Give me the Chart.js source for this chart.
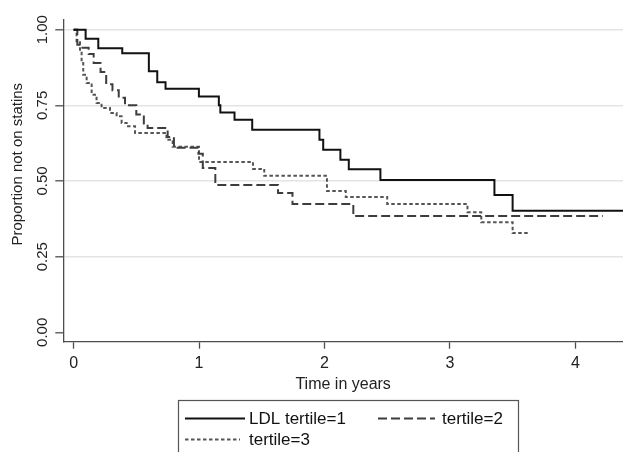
<!DOCTYPE html>
<html>
<head>
<meta charset="utf-8">
<title>Proportion not on statins by LDL tertile</title>
<script src="https://cdn.jsdelivr.net/npm/chart.js@4.4.1/dist/chart.umd.min.js"></script>
<style>
  html, body { margin: 0; padding: 0; background: #fff; }
  canvas { display: block; }
</style>
</head>
<body>
<canvas id="kmChart" width="623" height="452"></canvas>
<script>
// Kaplan-Meier estimates (time in years, proportion not on statins)
const seriesLabels = ["LDL tertile=1", "tertile=2", "tertile=3"];

const tertile1Times = [0, 0.096, 0.197, 0.388, 0.60, 0.667, 0.733, 0.999, 1.158, 1.17, 1.283, 1.424, 1.96, 1.99, 2.127, 2.194, 2.446, 3.355, 3.50, 4.38];
const tertile1Surv  = [1.0, 0.970, 0.939, 0.922, 0.863, 0.826, 0.805, 0.779, 0.750, 0.726, 0.702, 0.669, 0.636, 0.603, 0.570, 0.539, 0.503, 0.454, 0.402, 0.402];

const tertile2Times = [0, 0.03, 0.056, 0.12, 0.16, 0.215, 0.26, 0.31, 0.36, 0.41, 0.50, 0.56, 0.59, 0.75, 0.80, 0.995, 1.03, 1.13, 1.63, 1.745, 2.23, 4.22];
const tertile2Surv  = [1.0, 0.95, 0.94, 0.92, 0.89, 0.86, 0.82, 0.80, 0.775, 0.75, 0.72, 0.69, 0.675, 0.645, 0.61, 0.59, 0.543, 0.487, 0.46, 0.424, 0.384, 0.384];

const tertile3Times = [0, 0.024, 0.051, 0.064, 0.077, 0.104, 0.144, 0.183, 0.223, 0.29, 0.343, 0.383, 0.423, 0.49, 0.74, 0.79, 1.0, 1.43, 1.52, 2.02, 2.17, 2.5, 3.14, 3.25, 3.5, 3.64];
const tertile3Surv  = [1.0, 0.962, 0.929, 0.896, 0.851, 0.824, 0.785, 0.758, 0.741, 0.725, 0.714, 0.692, 0.681, 0.659, 0.636, 0.613, 0.563, 0.54, 0.517, 0.467, 0.447, 0.424, 0.397, 0.364, 0.328, 0.328];

const xTicks = [0, 1, 2, 3, 4];
const yTicks = [0, 0.25, 0.5, 0.75, 1];

const FONT = "'Liberation Sans', Arial, Helvetica, sans-serif";
Chart.defaults.font.family = FONT;
Chart.defaults.color = "#222";

function toPoints(times, surv) {
  return times.map((t, i) => ({ x: t, y: surv[i] }));
}

// stata-style legend: framed box, two columns, left aligned rows
const legendSlots = [
  { x: 185, w: 60, textX: 249, lineY: 418.5, textY: 419 },
  { x: 378, w: 57, textX: 442, lineY: 418.5, textY: 419 },
  { x: 185, w: 55, textX: 249, lineY: 439.5, textY: 440.5 },
];

const framedLegend = {
  id: "framedLegend",
  afterDraw(chart) {
    const c = chart.ctx;
    c.save();
    c.strokeStyle = "#555";
    c.lineWidth = 1.2;
    c.strokeRect(178.5, 400.5, 340, 80);
    chart.data.datasets.forEach((ds, i) => {
      const s = legendSlots[i];
      c.beginPath();
      c.setLineDash(ds.borderDash || []);
      c.strokeStyle = ds.borderColor;
      c.lineWidth = ds.borderWidth;
      c.moveTo(s.x, s.lineY);
      c.lineTo(s.x + s.w, s.lineY);
      c.stroke();
      c.setLineDash([]);
      c.fillStyle = "#111";
      c.font = "17px " + FONT;
      c.textBaseline = "middle";
      c.fillText(ds.label, s.textX, s.textY);
    });
    c.restore();
  },
};

const data = {
  datasets: [
    {
      label: seriesLabels[0],
      data: toPoints(tertile1Times, tertile1Surv),
      borderColor: "#111",
      borderWidth: 2,
      borderDash: [],
    },
    {
      label: seriesLabels[1],
      data: toPoints(tertile2Times, tertile2Surv),
      borderColor: "#3d3d3d",
      borderWidth: 2,
      borderDash: [9, 4],
    },
    {
      label: seriesLabels[2],
      data: toPoints(tertile3Times, tertile3Surv),
      borderColor: "#555",
      borderWidth: 2,
      borderDash: [3.5, 2.5],
    },
  ],
};

const config = {
  type: "line",
  data,
  options: {
    responsive: false,
    animation: false,
    layout: { padding: { top: 20, left: 0, right: 0, bottom: 0 } },
    elements: {
      // horizontal first, then the drop at each event time
      line: { stepped: "before", tension: 0, fill: false },
      point: { radius: 0, hoverRadius: 0 },
    },
    plugins: {
      legend: { display: false },
      tooltip: { enabled: false },
    },
    scales: {
      x: {
        type: "linear",
        min: -0.082,
        max: 4.38,
        afterBuildTicks: (s) => { s.ticks = xTicks.map((v) => ({ value: v })); },
        afterFit: (s) => { s.height = 110.3; },
        ticks: {
          font: { size: 16 },
          padding: 5,
          color: "#222",
          maxRotation: 0,
          autoSkip: false,
        },
        grid: {
          drawOnChartArea: false,
          drawTicks: true,
          tickLength: 7,
          tickColor: "#4d4d4d",
          tickWidth: 1.3,
        },
        border: { display: true, color: "#4d4d4d", width: 1.3 },
        title: {
          display: true,
          text: "Time in years",
          font: { size: 16 },
          color: "#222",
          padding: { top: 0, bottom: 58 },
        },
      },
      y: {
        type: "linear",
        min: -0.031,
        max: 1.032,
        afterBuildTicks: (s) => { s.ticks = yTicks.map((v) => ({ value: v })); },
        afterFit: (s) => { s.width = 63.3; },
        ticks: {
          font: { size: 15 },
          padding: -2,
          minRotation: 90,
          maxRotation: 90,
          crossAlign: "center",
          autoSkip: false,
          color: "#222",
          callback: (v) => Number(v).toFixed(2),
        },
        grid: {
          color: (ctx) => (ctx.tick && ctx.tick.value === 0 ? "rgba(0,0,0,0)" : "#e4e4e4"),
          lineWidth: 1.6,
          drawTicks: true,
          tickLength: 8,
          tickColor: "#4d4d4d",
          tickWidth: 1.3,
        },
        border: { display: true, color: "#4d4d4d", width: 1.3 },
        title: {
          display: true,
          // leading spaces nudge the rotated title up, like the original
          text: "        Proportion not on statins",
          font: { size: 15 },
          color: "#222",
          padding: { top: 9, bottom: 0 },
        },
      },
    },
  },
  plugins: [framedLegend],
};

new Chart(document.getElementById("kmChart").getContext("2d"), config);
</script>
</body>
</html>
